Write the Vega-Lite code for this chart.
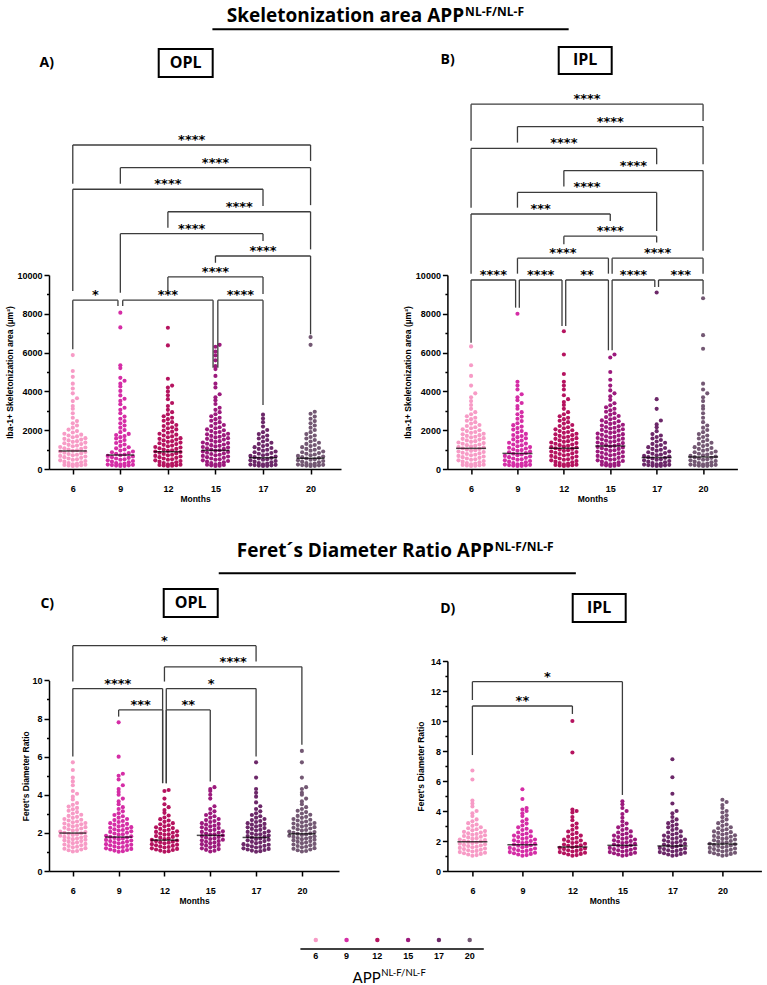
{
"$schema": "https://vega.github.io/schema/vega-lite/v6.json",
"background": "white",
"padding": 5,
"config": {
 "view": {"stroke": null},
 "axis": {"grid": false, "domainColor": "black", "domainWidth": 1.5, "tickColor": "black", "tickWidth": 1.5, "labelFont": "Liberation Sans", "labelFontSize": 9, "labelFontWeight": "bold", "labelColor": "black", "titleFont": "Liberation Sans", "titleFontSize": 8.5, "titleFontWeight": "bold", "titleColor": "black", "labelOverlap": false, "labelFlush": false}
},
"datasets": {
"A": [
{"m":6,"v":155},{"m":6,"v":165},{"m":6,"v":180},{"m":6,"v":195},{"m":6,"v":210},{"m":6,"v":225},{"m":6,"v":245},{"m":6,"v":275},{"m":6,"v":310},{"m":6,"v":345},{"m":6,"v":380},{"m":6,"v":415},{"m":6,"v":445},{"m":6,"v":475},{"m":6,"v":505},{"m":6,"v":540},{"m":6,"v":575},{"m":6,"v":610},{"m":6,"v":645},{"m":6,"v":675},{"m":6,"v":705},{"m":6,"v":735},{"m":6,"v":770},{"m":6,"v":805},{"m":6,"v":840},{"m":6,"v":875},{"m":6,"v":905},{"m":6,"v":935},{"m":6,"v":965},{"m":6,"v":1000},{"m":6,"v":1035},{"m":6,"v":1070},{"m":6,"v":1105},{"m":6,"v":1135},{"m":6,"v":1170},{"m":6,"v":1205},{"m":6,"v":1245},{"m":6,"v":1285},{"m":6,"v":1325},{"m":6,"v":1360},{"m":6,"v":1400},{"m":6,"v":1435},{"m":6,"v":1475},{"m":6,"v":1515},{"m":6,"v":1555},{"m":6,"v":1590},{"m":6,"v":1635},{"m":6,"v":1680},{"m":6,"v":1725},{"m":6,"v":1770},{"m":6,"v":1815},{"m":6,"v":1880},{"m":6,"v":1955},{"m":6,"v":2030},{"m":6,"v":2130},{"m":6,"v":2240},{"m":6,"v":2360},{"m":6,"v":2470},{"m":6,"v":2645},{"m":6,"v":2875},{"m":6,"v":3105},{"m":6,"v":3250},{"m":6,"v":3500},{"m":6,"v":3650},{"m":6,"v":3900},{"m":6,"v":4150},{"m":6,"v":4400},{"m":6,"v":4750},{"m":6,"v":5050},{"m":6,"v":5870},
{"m":9,"v":152},{"m":9,"v":162},{"m":9,"v":175},{"m":9,"v":188},{"m":9,"v":200},{"m":9,"v":213},{"m":9,"v":226},{"m":9,"v":245},{"m":9,"v":275},{"m":9,"v":310},{"m":9,"v":345},{"m":9,"v":380},{"m":9,"v":415},{"m":9,"v":445},{"m":9,"v":475},{"m":9,"v":505},{"m":9,"v":540},{"m":9,"v":575},{"m":9,"v":610},{"m":9,"v":645},{"m":9,"v":675},{"m":9,"v":710},{"m":9,"v":745},{"m":9,"v":785},{"m":9,"v":825},{"m":9,"v":865},{"m":9,"v":900},{"m":9,"v":950},{"m":9,"v":1005},{"m":9,"v":1065},{"m":9,"v":1120},{"m":9,"v":1190},{"m":9,"v":1265},{"m":9,"v":1340},{"m":9,"v":1420},{"m":9,"v":1495},{"m":9,"v":1570},{"m":9,"v":1640},{"m":9,"v":1695},{"m":9,"v":1755},{"m":9,"v":1810},{"m":9,"v":1900},{"m":9,"v":2010},{"m":9,"v":2130},{"m":9,"v":2240},{"m":9,"v":2360},{"m":9,"v":2470},{"m":9,"v":2590},{"m":9,"v":2700},{"m":9,"v":2875},{"m":9,"v":3050},{"m":9,"v":3160},{"m":9,"v":3335},{"m":9,"v":3510},{"m":9,"v":3620},{"m":9,"v":3795},{"m":9,"v":4025},{"m":9,"v":4250},{"m":9,"v":4400},{"m":9,"v":4550},{"m":9,"v":4700},{"m":9,"v":5200},{"m":9,"v":5350},{"m":9,"v":7300},{"m":9,"v":8060},
{"m":12,"v":155},{"m":12,"v":165},{"m":12,"v":180},{"m":12,"v":195},{"m":12,"v":210},{"m":12,"v":225},{"m":12,"v":245},{"m":12,"v":275},{"m":12,"v":310},{"m":12,"v":345},{"m":12,"v":380},{"m":12,"v":415},{"m":12,"v":445},{"m":12,"v":475},{"m":12,"v":505},{"m":12,"v":540},{"m":12,"v":575},{"m":12,"v":610},{"m":12,"v":645},{"m":12,"v":675},{"m":12,"v":705},{"m":12,"v":735},{"m":12,"v":770},{"m":12,"v":805},{"m":12,"v":840},{"m":12,"v":875},{"m":12,"v":905},{"m":12,"v":935},{"m":12,"v":965},{"m":12,"v":1000},{"m":12,"v":1035},{"m":12,"v":1070},{"m":12,"v":1105},{"m":12,"v":1135},{"m":12,"v":1170},{"m":12,"v":1205},{"m":12,"v":1245},{"m":12,"v":1285},{"m":12,"v":1325},{"m":12,"v":1360},{"m":12,"v":1400},{"m":12,"v":1435},{"m":12,"v":1475},{"m":12,"v":1515},{"m":12,"v":1555},{"m":12,"v":1590},{"m":12,"v":1635},{"m":12,"v":1680},{"m":12,"v":1725},{"m":12,"v":1770},{"m":12,"v":1815},{"m":12,"v":1870},{"m":12,"v":1925},{"m":12,"v":1985},{"m":12,"v":2040},{"m":12,"v":2100},{"m":12,"v":2155},{"m":12,"v":2215},{"m":12,"v":2270},{"m":12,"v":2340},{"m":12,"v":2415},{"m":12,"v":2490},{"m":12,"v":2570},{"m":12,"v":2645},{"m":12,"v":2720},{"m":12,"v":2820},{"m":12,"v":2930},{"m":12,"v":3050},{"m":12,"v":3250},{"m":12,"v":3400},{"m":12,"v":3600},{"m":12,"v":3800},{"m":12,"v":4000},{"m":12,"v":4200},{"m":12,"v":4300},{"m":12,"v":4650},{"m":12,"v":6370},{"m":12,"v":7280},
{"m":15,"v":158},{"m":15,"v":172},{"m":15,"v":190},{"m":15,"v":205},{"m":15,"v":222},{"m":15,"v":245},{"m":15,"v":275},{"m":15,"v":310},{"m":15,"v":345},{"m":15,"v":380},{"m":15,"v":415},{"m":15,"v":445},{"m":15,"v":475},{"m":15,"v":505},{"m":15,"v":540},{"m":15,"v":575},{"m":15,"v":610},{"m":15,"v":645},{"m":15,"v":675},{"m":15,"v":705},{"m":15,"v":735},{"m":15,"v":770},{"m":15,"v":805},{"m":15,"v":840},{"m":15,"v":875},{"m":15,"v":905},{"m":15,"v":935},{"m":15,"v":965},{"m":15,"v":1000},{"m":15,"v":1035},{"m":15,"v":1070},{"m":15,"v":1105},{"m":15,"v":1135},{"m":15,"v":1165},{"m":15,"v":1195},{"m":15,"v":1230},{"m":15,"v":1265},{"m":15,"v":1300},{"m":15,"v":1335},{"m":15,"v":1365},{"m":15,"v":1400},{"m":15,"v":1435},{"m":15,"v":1475},{"m":15,"v":1515},{"m":15,"v":1555},{"m":15,"v":1590},{"m":15,"v":1630},{"m":15,"v":1665},{"m":15,"v":1705},{"m":15,"v":1745},{"m":15,"v":1785},{"m":15,"v":1820},{"m":15,"v":1865},{"m":15,"v":1910},{"m":15,"v":1955},{"m":15,"v":2000},{"m":15,"v":2045},{"m":15,"v":2100},{"m":15,"v":2155},{"m":15,"v":2215},{"m":15,"v":2270},{"m":15,"v":2340},{"m":15,"v":2415},{"m":15,"v":2490},{"m":15,"v":2570},{"m":15,"v":2645},{"m":15,"v":2720},{"m":15,"v":2820},{"m":15,"v":2930},{"m":15,"v":3050},{"m":15,"v":3160},{"m":15,"v":3350},{"m":15,"v":3550},{"m":15,"v":3700},{"m":15,"v":3850},{"m":15,"v":4200},{"m":15,"v":4400},{"m":15,"v":4800},{"m":15,"v":5150},{"m":15,"v":5300},{"m":15,"v":5600},{"m":15,"v":5850},{"m":15,"v":6050},{"m":15,"v":6300},{"m":15,"v":6400},
{"m":17,"v":152},{"m":17,"v":162},{"m":17,"v":175},{"m":17,"v":188},{"m":17,"v":200},{"m":17,"v":213},{"m":17,"v":226},{"m":17,"v":245},{"m":17,"v":275},{"m":17,"v":310},{"m":17,"v":345},{"m":17,"v":380},{"m":17,"v":415},{"m":17,"v":445},{"m":17,"v":475},{"m":17,"v":505},{"m":17,"v":540},{"m":17,"v":575},{"m":17,"v":610},{"m":17,"v":645},{"m":17,"v":675},{"m":17,"v":710},{"m":17,"v":745},{"m":17,"v":785},{"m":17,"v":825},{"m":17,"v":865},{"m":17,"v":900},{"m":17,"v":945},{"m":17,"v":990},{"m":17,"v":1035},{"m":17,"v":1080},{"m":17,"v":1125},{"m":17,"v":1180},{"m":17,"v":1235},{"m":17,"v":1295},{"m":17,"v":1350},{"m":17,"v":1420},{"m":17,"v":1495},{"m":17,"v":1570},{"m":17,"v":1650},{"m":17,"v":1725},{"m":17,"v":1800},{"m":17,"v":1900},{"m":17,"v":2010},{"m":17,"v":2185},{"m":17,"v":2415},{"m":17,"v":2600},{"m":17,"v":2800},
{"m":20,"v":152},{"m":20,"v":162},{"m":20,"v":175},{"m":20,"v":188},{"m":20,"v":200},{"m":20,"v":213},{"m":20,"v":226},{"m":20,"v":245},{"m":20,"v":275},{"m":20,"v":310},{"m":20,"v":345},{"m":20,"v":380},{"m":20,"v":415},{"m":20,"v":445},{"m":20,"v":475},{"m":20,"v":505},{"m":20,"v":540},{"m":20,"v":575},{"m":20,"v":610},{"m":20,"v":645},{"m":20,"v":675},{"m":20,"v":710},{"m":20,"v":745},{"m":20,"v":785},{"m":20,"v":825},{"m":20,"v":865},{"m":20,"v":900},{"m":20,"v":945},{"m":20,"v":990},{"m":20,"v":1035},{"m":20,"v":1080},{"m":20,"v":1125},{"m":20,"v":1180},{"m":20,"v":1235},{"m":20,"v":1295},{"m":20,"v":1350},{"m":20,"v":1420},{"m":20,"v":1495},{"m":20,"v":1570},{"m":20,"v":1650},{"m":20,"v":1725},{"m":20,"v":1800},{"m":20,"v":1900},{"m":20,"v":2010},{"m":20,"v":2130},{"m":20,"v":2240},{"m":20,"v":2360},{"m":20,"v":2470},{"m":20,"v":2590},{"m":20,"v":2700},{"m":20,"v":2850},{"m":20,"v":2950},{"m":20,"v":6400},{"m":20,"v":6800}
],
"B": [
{"m":6,"v":155},{"m":6,"v":165},{"m":6,"v":180},{"m":6,"v":195},{"m":6,"v":210},{"m":6,"v":225},{"m":6,"v":245},{"m":6,"v":275},{"m":6,"v":310},{"m":6,"v":345},{"m":6,"v":380},{"m":6,"v":415},{"m":6,"v":445},{"m":6,"v":475},{"m":6,"v":505},{"m":6,"v":540},{"m":6,"v":575},{"m":6,"v":610},{"m":6,"v":645},{"m":6,"v":675},{"m":6,"v":705},{"m":6,"v":735},{"m":6,"v":770},{"m":6,"v":805},{"m":6,"v":840},{"m":6,"v":875},{"m":6,"v":905},{"m":6,"v":935},{"m":6,"v":965},{"m":6,"v":1000},{"m":6,"v":1035},{"m":6,"v":1070},{"m":6,"v":1105},{"m":6,"v":1135},{"m":6,"v":1165},{"m":6,"v":1195},{"m":6,"v":1230},{"m":6,"v":1265},{"m":6,"v":1300},{"m":6,"v":1335},{"m":6,"v":1365},{"m":6,"v":1400},{"m":6,"v":1435},{"m":6,"v":1475},{"m":6,"v":1515},{"m":6,"v":1555},{"m":6,"v":1590},{"m":6,"v":1630},{"m":6,"v":1665},{"m":6,"v":1705},{"m":6,"v":1745},{"m":6,"v":1785},{"m":6,"v":1820},{"m":6,"v":1865},{"m":6,"v":1910},{"m":6,"v":1955},{"m":6,"v":2000},{"m":6,"v":2045},{"m":6,"v":2100},{"m":6,"v":2155},{"m":6,"v":2215},{"m":6,"v":2270},{"m":6,"v":2340},{"m":6,"v":2415},{"m":6,"v":2490},{"m":6,"v":2570},{"m":6,"v":2645},{"m":6,"v":2720},{"m":6,"v":2820},{"m":6,"v":2930},{"m":6,"v":3100},{"m":6,"v":3300},{"m":6,"v":3500},{"m":6,"v":3700},{"m":6,"v":3900},{"m":6,"v":4300},{"m":6,"v":4800},{"m":6,"v":5350},{"m":6,"v":6320},
{"m":9,"v":152},{"m":9,"v":162},{"m":9,"v":175},{"m":9,"v":188},{"m":9,"v":200},{"m":9,"v":213},{"m":9,"v":226},{"m":9,"v":245},{"m":9,"v":275},{"m":9,"v":310},{"m":9,"v":345},{"m":9,"v":380},{"m":9,"v":415},{"m":9,"v":445},{"m":9,"v":475},{"m":9,"v":505},{"m":9,"v":540},{"m":9,"v":575},{"m":9,"v":610},{"m":9,"v":645},{"m":9,"v":675},{"m":9,"v":710},{"m":9,"v":745},{"m":9,"v":785},{"m":9,"v":825},{"m":9,"v":865},{"m":9,"v":900},{"m":9,"v":940},{"m":9,"v":975},{"m":9,"v":1015},{"m":9,"v":1055},{"m":9,"v":1095},{"m":9,"v":1130},{"m":9,"v":1175},{"m":9,"v":1220},{"m":9,"v":1265},{"m":9,"v":1310},{"m":9,"v":1355},{"m":9,"v":1410},{"m":9,"v":1465},{"m":9,"v":1525},{"m":9,"v":1580},{"m":9,"v":1640},{"m":9,"v":1695},{"m":9,"v":1755},{"m":9,"v":1810},{"m":9,"v":1880},{"m":9,"v":1955},{"m":9,"v":2030},{"m":9,"v":2110},{"m":9,"v":2185},{"m":9,"v":2260},{"m":9,"v":2360},{"m":9,"v":2470},{"m":9,"v":2590},{"m":9,"v":2700},{"m":9,"v":2820},{"m":9,"v":2930},{"m":9,"v":3105},{"m":9,"v":3250},{"m":9,"v":3400},{"m":9,"v":3550},{"m":9,"v":3700},{"m":9,"v":3850},{"m":9,"v":4100},{"m":9,"v":4300},{"m":9,"v":4500},{"m":9,"v":8000},
{"m":12,"v":155},{"m":12,"v":165},{"m":12,"v":180},{"m":12,"v":195},{"m":12,"v":210},{"m":12,"v":225},{"m":12,"v":245},{"m":12,"v":275},{"m":12,"v":310},{"m":12,"v":345},{"m":12,"v":380},{"m":12,"v":415},{"m":12,"v":445},{"m":12,"v":475},{"m":12,"v":505},{"m":12,"v":540},{"m":12,"v":575},{"m":12,"v":610},{"m":12,"v":645},{"m":12,"v":675},{"m":12,"v":705},{"m":12,"v":735},{"m":12,"v":770},{"m":12,"v":805},{"m":12,"v":840},{"m":12,"v":875},{"m":12,"v":905},{"m":12,"v":935},{"m":12,"v":965},{"m":12,"v":1000},{"m":12,"v":1035},{"m":12,"v":1070},{"m":12,"v":1105},{"m":12,"v":1135},{"m":12,"v":1165},{"m":12,"v":1195},{"m":12,"v":1230},{"m":12,"v":1265},{"m":12,"v":1300},{"m":12,"v":1335},{"m":12,"v":1365},{"m":12,"v":1400},{"m":12,"v":1435},{"m":12,"v":1475},{"m":12,"v":1515},{"m":12,"v":1555},{"m":12,"v":1590},{"m":12,"v":1630},{"m":12,"v":1665},{"m":12,"v":1705},{"m":12,"v":1745},{"m":12,"v":1785},{"m":12,"v":1820},{"m":12,"v":1865},{"m":12,"v":1910},{"m":12,"v":1955},{"m":12,"v":2000},{"m":12,"v":2045},{"m":12,"v":2100},{"m":12,"v":2155},{"m":12,"v":2215},{"m":12,"v":2270},{"m":12,"v":2340},{"m":12,"v":2415},{"m":12,"v":2490},{"m":12,"v":2570},{"m":12,"v":2645},{"m":12,"v":2720},{"m":12,"v":2820},{"m":12,"v":2930},{"m":12,"v":3100},{"m":12,"v":3300},{"m":12,"v":3450},{"m":12,"v":3600},{"m":12,"v":3800},{"m":12,"v":4100},{"m":12,"v":4300},{"m":12,"v":4500},{"m":12,"v":4900},{"m":12,"v":5900},{"m":12,"v":7100},
{"m":15,"v":158},{"m":15,"v":172},{"m":15,"v":190},{"m":15,"v":205},{"m":15,"v":222},{"m":15,"v":245},{"m":15,"v":275},{"m":15,"v":310},{"m":15,"v":345},{"m":15,"v":380},{"m":15,"v":415},{"m":15,"v":445},{"m":15,"v":475},{"m":15,"v":505},{"m":15,"v":540},{"m":15,"v":575},{"m":15,"v":610},{"m":15,"v":645},{"m":15,"v":675},{"m":15,"v":705},{"m":15,"v":735},{"m":15,"v":770},{"m":15,"v":805},{"m":15,"v":840},{"m":15,"v":875},{"m":15,"v":905},{"m":15,"v":935},{"m":15,"v":965},{"m":15,"v":1000},{"m":15,"v":1035},{"m":15,"v":1070},{"m":15,"v":1105},{"m":15,"v":1135},{"m":15,"v":1165},{"m":15,"v":1195},{"m":15,"v":1230},{"m":15,"v":1265},{"m":15,"v":1300},{"m":15,"v":1335},{"m":15,"v":1365},{"m":15,"v":1395},{"m":15,"v":1425},{"m":15,"v":1460},{"m":15,"v":1495},{"m":15,"v":1530},{"m":15,"v":1565},{"m":15,"v":1595},{"m":15,"v":1625},{"m":15,"v":1655},{"m":15,"v":1690},{"m":15,"v":1725},{"m":15,"v":1760},{"m":15,"v":1795},{"m":15,"v":1825},{"m":15,"v":1860},{"m":15,"v":1895},{"m":15,"v":1935},{"m":15,"v":1975},{"m":15,"v":2015},{"m":15,"v":2050},{"m":15,"v":2090},{"m":15,"v":2125},{"m":15,"v":2165},{"m":15,"v":2205},{"m":15,"v":2245},{"m":15,"v":2280},{"m":15,"v":2325},{"m":15,"v":2370},{"m":15,"v":2415},{"m":15,"v":2460},{"m":15,"v":2505},{"m":15,"v":2560},{"m":15,"v":2615},{"m":15,"v":2675},{"m":15,"v":2730},{"m":15,"v":2800},{"m":15,"v":2875},{"m":15,"v":2950},{"m":15,"v":3030},{"m":15,"v":3105},{"m":15,"v":3180},{"m":15,"v":3280},{"m":15,"v":3390},{"m":15,"v":3565},{"m":15,"v":3750},{"m":15,"v":3900},{"m":15,"v":4050},{"m":15,"v":4300},{"m":15,"v":4600},{"m":15,"v":5000},{"m":15,"v":5750},{"m":15,"v":5900},
{"m":17,"v":152},{"m":17,"v":162},{"m":17,"v":175},{"m":17,"v":188},{"m":17,"v":200},{"m":17,"v":213},{"m":17,"v":226},{"m":17,"v":245},{"m":17,"v":275},{"m":17,"v":310},{"m":17,"v":345},{"m":17,"v":380},{"m":17,"v":415},{"m":17,"v":445},{"m":17,"v":475},{"m":17,"v":505},{"m":17,"v":540},{"m":17,"v":575},{"m":17,"v":610},{"m":17,"v":645},{"m":17,"v":675},{"m":17,"v":710},{"m":17,"v":745},{"m":17,"v":785},{"m":17,"v":825},{"m":17,"v":865},{"m":17,"v":900},{"m":17,"v":945},{"m":17,"v":990},{"m":17,"v":1035},{"m":17,"v":1080},{"m":17,"v":1125},{"m":17,"v":1180},{"m":17,"v":1235},{"m":17,"v":1295},{"m":17,"v":1350},{"m":17,"v":1420},{"m":17,"v":1495},{"m":17,"v":1570},{"m":17,"v":1650},{"m":17,"v":1725},{"m":17,"v":1800},{"m":17,"v":1950},{"m":17,"v":2150},{"m":17,"v":2300},{"m":17,"v":2500},{"m":17,"v":3100},{"m":17,"v":3600},{"m":17,"v":9100},
{"m":20,"v":152},{"m":20,"v":162},{"m":20,"v":175},{"m":20,"v":188},{"m":20,"v":200},{"m":20,"v":213},{"m":20,"v":226},{"m":20,"v":245},{"m":20,"v":275},{"m":20,"v":310},{"m":20,"v":345},{"m":20,"v":380},{"m":20,"v":415},{"m":20,"v":445},{"m":20,"v":475},{"m":20,"v":505},{"m":20,"v":540},{"m":20,"v":575},{"m":20,"v":610},{"m":20,"v":645},{"m":20,"v":675},{"m":20,"v":710},{"m":20,"v":745},{"m":20,"v":785},{"m":20,"v":825},{"m":20,"v":865},{"m":20,"v":900},{"m":20,"v":945},{"m":20,"v":990},{"m":20,"v":1035},{"m":20,"v":1080},{"m":20,"v":1125},{"m":20,"v":1180},{"m":20,"v":1235},{"m":20,"v":1295},{"m":20,"v":1350},{"m":20,"v":1420},{"m":20,"v":1495},{"m":20,"v":1570},{"m":20,"v":1650},{"m":20,"v":1725},{"m":20,"v":1800},{"m":20,"v":1900},{"m":20,"v":2010},{"m":20,"v":2130},{"m":20,"v":2240},{"m":20,"v":2415},{"m":20,"v":2645},{"m":20,"v":2875},{"m":20,"v":3105},{"m":20,"v":3250},{"m":20,"v":3500},{"m":20,"v":3700},{"m":20,"v":3900},{"m":20,"v":4100},{"m":20,"v":4400},{"m":20,"v":6200},{"m":20,"v":6900},{"m":20,"v":8800}
],
"C": [
{"m":6,"v":1.02},{"m":6,"v":1.05},{"m":6,"v":1.09},{"m":6,"v":1.13},{"m":6,"v":1.17},{"m":6,"v":1.2},{"m":6,"v":1.24},{"m":6,"v":1.27},{"m":6,"v":1.31},{"m":6,"v":1.35},{"m":6,"v":1.39},{"m":6,"v":1.42},{"m":6,"v":1.46},{"m":6,"v":1.49},{"m":6,"v":1.53},{"m":6,"v":1.57},{"m":6,"v":1.61},{"m":6,"v":1.64},{"m":6,"v":1.67},{"m":6,"v":1.7},{"m":6,"v":1.73},{"m":6,"v":1.76},{"m":6,"v":1.79},{"m":6,"v":1.82},{"m":6,"v":1.85},{"m":6,"v":1.89},{"m":6,"v":1.92},{"m":6,"v":1.95},{"m":6,"v":1.98},{"m":6,"v":2.01},{"m":6,"v":2.04},{"m":6,"v":2.07},{"m":6,"v":2.12},{"m":6,"v":2.15},{"m":6,"v":2.19},{"m":6,"v":2.23},{"m":6,"v":2.27},{"m":6,"v":2.3},{"m":6,"v":2.34},{"m":6,"v":2.37},{"m":6,"v":2.41},{"m":6,"v":2.45},{"m":6,"v":2.49},{"m":6,"v":2.52},{"m":6,"v":2.56},{"m":6,"v":2.6},{"m":6,"v":2.65},{"m":6,"v":2.69},{"m":6,"v":2.73},{"m":6,"v":2.79},{"m":6,"v":2.84},{"m":6,"v":2.89},{"m":6,"v":2.95},{"m":6,"v":3.02},{"m":6,"v":3.09},{"m":6,"v":3.16},{"m":6,"v":3.24},{"m":6,"v":3.31},{"m":6,"v":3.38},{"m":6,"v":3.47},{"m":6,"v":3.57},{"m":6,"v":3.75},{"m":6,"v":3.9},{"m":6,"v":4.05},{"m":6,"v":4.2},{"m":6,"v":4.5},{"m":6,"v":4.7},{"m":6,"v":4.9},{"m":6,"v":5.3},{"m":6,"v":5.7},
{"m":9,"v":1.01},{"m":9,"v":1.04},{"m":9,"v":1.07},{"m":9,"v":1.1},{"m":9,"v":1.13},{"m":9,"v":1.16},{"m":9,"v":1.19},{"m":9,"v":1.23},{"m":9,"v":1.26},{"m":9,"v":1.29},{"m":9,"v":1.32},{"m":9,"v":1.35},{"m":9,"v":1.38},{"m":9,"v":1.41},{"m":9,"v":1.45},{"m":9,"v":1.48},{"m":9,"v":1.51},{"m":9,"v":1.54},{"m":9,"v":1.57},{"m":9,"v":1.6},{"m":9,"v":1.63},{"m":9,"v":1.67},{"m":9,"v":1.7},{"m":9,"v":1.73},{"m":9,"v":1.76},{"m":9,"v":1.79},{"m":9,"v":1.82},{"m":9,"v":1.85},{"m":9,"v":1.9},{"m":9,"v":1.93},{"m":9,"v":1.97},{"m":9,"v":2.01},{"m":9,"v":2.05},{"m":9,"v":2.08},{"m":9,"v":2.12},{"m":9,"v":2.15},{"m":9,"v":2.19},{"m":9,"v":2.23},{"m":9,"v":2.27},{"m":9,"v":2.3},{"m":9,"v":2.34},{"m":9,"v":2.38},{"m":9,"v":2.43},{"m":9,"v":2.47},{"m":9,"v":2.51},{"m":9,"v":2.57},{"m":9,"v":2.62},{"m":9,"v":2.67},{"m":9,"v":2.73},{"m":9,"v":2.8},{"m":9,"v":2.87},{"m":9,"v":2.94},{"m":9,"v":3.03},{"m":9,"v":3.13},{"m":9,"v":3.25},{"m":9,"v":3.35},{"m":9,"v":3.5},{"m":9,"v":3.65},{"m":9,"v":3.8},{"m":9,"v":4.0},{"m":9,"v":4.15},{"m":9,"v":4.3},{"m":9,"v":4.5},{"m":9,"v":4.8},{"m":9,"v":5.0},{"m":9,"v":5.1},{"m":9,"v":6.0},{"m":9,"v":7.8},
{"m":12,"v":1.01},{"m":12,"v":1.04},{"m":12,"v":1.07},{"m":12,"v":1.1},{"m":12,"v":1.13},{"m":12,"v":1.16},{"m":12,"v":1.19},{"m":12,"v":1.23},{"m":12,"v":1.26},{"m":12,"v":1.29},{"m":12,"v":1.32},{"m":12,"v":1.35},{"m":12,"v":1.38},{"m":12,"v":1.41},{"m":12,"v":1.45},{"m":12,"v":1.48},{"m":12,"v":1.51},{"m":12,"v":1.54},{"m":12,"v":1.57},{"m":12,"v":1.6},{"m":12,"v":1.63},{"m":12,"v":1.68},{"m":12,"v":1.71},{"m":12,"v":1.75},{"m":12,"v":1.79},{"m":12,"v":1.83},{"m":12,"v":1.86},{"m":12,"v":1.9},{"m":12,"v":1.93},{"m":12,"v":1.97},{"m":12,"v":2.01},{"m":12,"v":2.05},{"m":12,"v":2.08},{"m":12,"v":2.12},{"m":12,"v":2.16},{"m":12,"v":2.21},{"m":12,"v":2.25},{"m":12,"v":2.29},{"m":12,"v":2.35},{"m":12,"v":2.4},{"m":12,"v":2.45},{"m":12,"v":2.51},{"m":12,"v":2.58},{"m":12,"v":2.65},{"m":12,"v":2.72},{"m":12,"v":2.81},{"m":12,"v":2.91},{"m":12,"v":3.05},{"m":12,"v":3.2},{"m":12,"v":3.35},{"m":12,"v":3.5},{"m":12,"v":3.8},{"m":12,"v":4.2},{"m":12,"v":4.25},
{"m":15,"v":1.02},{"m":15,"v":1.06},{"m":15,"v":1.11},{"m":15,"v":1.15},{"m":15,"v":1.19},{"m":15,"v":1.24},{"m":15,"v":1.28},{"m":15,"v":1.33},{"m":15,"v":1.37},{"m":15,"v":1.41},{"m":15,"v":1.46},{"m":15,"v":1.49},{"m":15,"v":1.53},{"m":15,"v":1.57},{"m":15,"v":1.61},{"m":15,"v":1.64},{"m":15,"v":1.68},{"m":15,"v":1.71},{"m":15,"v":1.75},{"m":15,"v":1.79},{"m":15,"v":1.83},{"m":15,"v":1.86},{"m":15,"v":1.9},{"m":15,"v":1.93},{"m":15,"v":1.97},{"m":15,"v":2.01},{"m":15,"v":2.05},{"m":15,"v":2.08},{"m":15,"v":2.12},{"m":15,"v":2.16},{"m":15,"v":2.21},{"m":15,"v":2.25},{"m":15,"v":2.29},{"m":15,"v":2.34},{"m":15,"v":2.38},{"m":15,"v":2.43},{"m":15,"v":2.47},{"m":15,"v":2.51},{"m":15,"v":2.57},{"m":15,"v":2.62},{"m":15,"v":2.67},{"m":15,"v":2.73},{"m":15,"v":2.8},{"m":15,"v":2.87},{"m":15,"v":2.94},{"m":15,"v":3.03},{"m":15,"v":3.13},{"m":15,"v":3.25},{"m":15,"v":3.4},{"m":15,"v":3.8},{"m":15,"v":4.0},{"m":15,"v":4.2},{"m":15,"v":4.3},{"m":15,"v":4.4},
{"m":17,"v":1.01},{"m":17,"v":1.04},{"m":17,"v":1.07},{"m":17,"v":1.1},{"m":17,"v":1.13},{"m":17,"v":1.16},{"m":17,"v":1.19},{"m":17,"v":1.23},{"m":17,"v":1.26},{"m":17,"v":1.29},{"m":17,"v":1.32},{"m":17,"v":1.35},{"m":17,"v":1.38},{"m":17,"v":1.41},{"m":17,"v":1.46},{"m":17,"v":1.49},{"m":17,"v":1.53},{"m":17,"v":1.57},{"m":17,"v":1.61},{"m":17,"v":1.64},{"m":17,"v":1.68},{"m":17,"v":1.71},{"m":17,"v":1.75},{"m":17,"v":1.79},{"m":17,"v":1.83},{"m":17,"v":1.86},{"m":17,"v":1.9},{"m":17,"v":1.93},{"m":17,"v":1.97},{"m":17,"v":2.01},{"m":17,"v":2.05},{"m":17,"v":2.08},{"m":17,"v":2.12},{"m":17,"v":2.16},{"m":17,"v":2.21},{"m":17,"v":2.25},{"m":17,"v":2.29},{"m":17,"v":2.34},{"m":17,"v":2.38},{"m":17,"v":2.43},{"m":17,"v":2.47},{"m":17,"v":2.51},{"m":17,"v":2.57},{"m":17,"v":2.62},{"m":17,"v":2.67},{"m":17,"v":2.73},{"m":17,"v":2.8},{"m":17,"v":2.87},{"m":17,"v":2.94},{"m":17,"v":3.03},{"m":17,"v":3.13},{"m":17,"v":3.25},{"m":17,"v":3.4},{"m":17,"v":3.6},{"m":17,"v":3.9},{"m":17,"v":4.1},{"m":17,"v":4.3},{"m":17,"v":4.9},{"m":17,"v":5.7},
{"m":20,"v":1.02},{"m":20,"v":1.05},{"m":20,"v":1.09},{"m":20,"v":1.13},{"m":20,"v":1.17},{"m":20,"v":1.2},{"m":20,"v":1.24},{"m":20,"v":1.27},{"m":20,"v":1.31},{"m":20,"v":1.35},{"m":20,"v":1.39},{"m":20,"v":1.42},{"m":20,"v":1.46},{"m":20,"v":1.49},{"m":20,"v":1.53},{"m":20,"v":1.57},{"m":20,"v":1.61},{"m":20,"v":1.64},{"m":20,"v":1.67},{"m":20,"v":1.7},{"m":20,"v":1.73},{"m":20,"v":1.76},{"m":20,"v":1.79},{"m":20,"v":1.82},{"m":20,"v":1.85},{"m":20,"v":1.89},{"m":20,"v":1.92},{"m":20,"v":1.95},{"m":20,"v":1.98},{"m":20,"v":2.01},{"m":20,"v":2.04},{"m":20,"v":2.07},{"m":20,"v":2.12},{"m":20,"v":2.15},{"m":20,"v":2.19},{"m":20,"v":2.23},{"m":20,"v":2.27},{"m":20,"v":2.3},{"m":20,"v":2.34},{"m":20,"v":2.37},{"m":20,"v":2.41},{"m":20,"v":2.45},{"m":20,"v":2.49},{"m":20,"v":2.52},{"m":20,"v":2.56},{"m":20,"v":2.6},{"m":20,"v":2.65},{"m":20,"v":2.69},{"m":20,"v":2.73},{"m":20,"v":2.79},{"m":20,"v":2.84},{"m":20,"v":2.89},{"m":20,"v":2.95},{"m":20,"v":3.02},{"m":20,"v":3.09},{"m":20,"v":3.16},{"m":20,"v":3.25},{"m":20,"v":3.35},{"m":20,"v":3.5},{"m":20,"v":3.65},{"m":20,"v":3.8},{"m":20,"v":4.0},{"m":20,"v":4.1},{"m":20,"v":4.3},{"m":20,"v":4.4},{"m":20,"v":4.9},{"m":20,"v":5.7},{"m":20,"v":6.3}
],
"D": [
{"m":6,"v":1.02},{"m":6,"v":1.06},{"m":6,"v":1.1},{"m":6,"v":1.14},{"m":6,"v":1.18},{"m":6,"v":1.22},{"m":6,"v":1.26},{"m":6,"v":1.3},{"m":6,"v":1.34},{"m":6,"v":1.38},{"m":6,"v":1.42},{"m":6,"v":1.46},{"m":6,"v":1.5},{"m":6,"v":1.54},{"m":6,"v":1.58},{"m":6,"v":1.62},{"m":6,"v":1.66},{"m":6,"v":1.7},{"m":6,"v":1.74},{"m":6,"v":1.78},{"m":6,"v":1.82},{"m":6,"v":1.86},{"m":6,"v":1.9},{"m":6,"v":1.94},{"m":6,"v":1.98},{"m":6,"v":2.02},{"m":6,"v":2.06},{"m":6,"v":2.1},{"m":6,"v":2.14},{"m":6,"v":2.19},{"m":6,"v":2.24},{"m":6,"v":2.28},{"m":6,"v":2.33},{"m":6,"v":2.38},{"m":6,"v":2.42},{"m":6,"v":2.47},{"m":6,"v":2.52},{"m":6,"v":2.56},{"m":6,"v":2.61},{"m":6,"v":2.66},{"m":6,"v":2.71},{"m":6,"v":2.78},{"m":6,"v":2.85},{"m":6,"v":2.92},{"m":6,"v":3.01},{"m":6,"v":3.1},{"m":6,"v":3.19},{"m":6,"v":3.31},{"m":6,"v":3.44},{"m":6,"v":3.66},{"m":6,"v":3.85},{"m":6,"v":4.0},{"m":6,"v":4.3},{"m":6,"v":4.5},{"m":6,"v":4.7},{"m":6,"v":6.1},{"m":6,"v":6.7},
{"m":9,"v":1.02},{"m":9,"v":1.06},{"m":9,"v":1.1},{"m":9,"v":1.14},{"m":9,"v":1.18},{"m":9,"v":1.22},{"m":9,"v":1.26},{"m":9,"v":1.3},{"m":9,"v":1.34},{"m":9,"v":1.38},{"m":9,"v":1.42},{"m":9,"v":1.46},{"m":9,"v":1.5},{"m":9,"v":1.54},{"m":9,"v":1.58},{"m":9,"v":1.63},{"m":9,"v":1.68},{"m":9,"v":1.72},{"m":9,"v":1.77},{"m":9,"v":1.82},{"m":9,"v":1.86},{"m":9,"v":1.91},{"m":9,"v":1.96},{"m":9,"v":2.0},{"m":9,"v":2.05},{"m":9,"v":2.1},{"m":9,"v":2.15},{"m":9,"v":2.2},{"m":9,"v":2.26},{"m":9,"v":2.31},{"m":9,"v":2.36},{"m":9,"v":2.43},{"m":9,"v":2.5},{"m":9,"v":2.57},{"m":9,"v":2.64},{"m":9,"v":2.73},{"m":9,"v":2.82},{"m":9,"v":2.91},{"m":9,"v":3.03},{"m":9,"v":3.16},{"m":9,"v":3.31},{"m":9,"v":3.44},{"m":9,"v":3.66},{"m":9,"v":3.85},{"m":9,"v":4.0},{"m":9,"v":4.1},{"m":9,"v":4.2},{"m":9,"v":4.8},{"m":9,"v":5.45},
{"m":12,"v":1.02},{"m":12,"v":1.06},{"m":12,"v":1.1},{"m":12,"v":1.14},{"m":12,"v":1.18},{"m":12,"v":1.22},{"m":12,"v":1.26},{"m":12,"v":1.3},{"m":12,"v":1.34},{"m":12,"v":1.38},{"m":12,"v":1.42},{"m":12,"v":1.46},{"m":12,"v":1.5},{"m":12,"v":1.54},{"m":12,"v":1.58},{"m":12,"v":1.63},{"m":12,"v":1.68},{"m":12,"v":1.72},{"m":12,"v":1.77},{"m":12,"v":1.82},{"m":12,"v":1.87},{"m":12,"v":1.92},{"m":12,"v":1.98},{"m":12,"v":2.03},{"m":12,"v":2.09},{"m":12,"v":2.15},{"m":12,"v":2.22},{"m":12,"v":2.29},{"m":12,"v":2.36},{"m":12,"v":2.45},{"m":12,"v":2.54},{"m":12,"v":2.63},{"m":12,"v":2.75},{"m":12,"v":2.88},{"m":12,"v":3.03},{"m":12,"v":3.16},{"m":12,"v":3.38},{"m":12,"v":3.6},{"m":12,"v":3.9},{"m":12,"v":4.0},{"m":12,"v":4.1},{"m":12,"v":7.9},{"m":12,"v":10.0},
{"m":15,"v":1.02},{"m":15,"v":1.06},{"m":15,"v":1.1},{"m":15,"v":1.14},{"m":15,"v":1.18},{"m":15,"v":1.22},{"m":15,"v":1.26},{"m":15,"v":1.3},{"m":15,"v":1.34},{"m":15,"v":1.38},{"m":15,"v":1.42},{"m":15,"v":1.46},{"m":15,"v":1.5},{"m":15,"v":1.54},{"m":15,"v":1.58},{"m":15,"v":1.63},{"m":15,"v":1.68},{"m":15,"v":1.72},{"m":15,"v":1.77},{"m":15,"v":1.82},{"m":15,"v":1.86},{"m":15,"v":1.91},{"m":15,"v":1.96},{"m":15,"v":2.0},{"m":15,"v":2.05},{"m":15,"v":2.1},{"m":15,"v":2.15},{"m":15,"v":2.2},{"m":15,"v":2.26},{"m":15,"v":2.31},{"m":15,"v":2.36},{"m":15,"v":2.43},{"m":15,"v":2.5},{"m":15,"v":2.57},{"m":15,"v":2.64},{"m":15,"v":2.73},{"m":15,"v":2.82},{"m":15,"v":2.91},{"m":15,"v":3.03},{"m":15,"v":3.16},{"m":15,"v":3.3},{"m":15,"v":3.55},{"m":15,"v":3.8},{"m":15,"v":4.0},{"m":15,"v":4.2},{"m":15,"v":4.45},{"m":15,"v":4.65},
{"m":17,"v":1.02},{"m":17,"v":1.06},{"m":17,"v":1.1},{"m":17,"v":1.14},{"m":17,"v":1.18},{"m":17,"v":1.22},{"m":17,"v":1.26},{"m":17,"v":1.3},{"m":17,"v":1.34},{"m":17,"v":1.38},{"m":17,"v":1.42},{"m":17,"v":1.46},{"m":17,"v":1.5},{"m":17,"v":1.54},{"m":17,"v":1.58},{"m":17,"v":1.63},{"m":17,"v":1.68},{"m":17,"v":1.72},{"m":17,"v":1.77},{"m":17,"v":1.82},{"m":17,"v":1.86},{"m":17,"v":1.91},{"m":17,"v":1.96},{"m":17,"v":2.0},{"m":17,"v":2.05},{"m":17,"v":2.1},{"m":17,"v":2.15},{"m":17,"v":2.2},{"m":17,"v":2.26},{"m":17,"v":2.31},{"m":17,"v":2.36},{"m":17,"v":2.43},{"m":17,"v":2.5},{"m":17,"v":2.57},{"m":17,"v":2.64},{"m":17,"v":2.73},{"m":17,"v":2.82},{"m":17,"v":2.91},{"m":17,"v":3.01},{"m":17,"v":3.1},{"m":17,"v":3.19},{"m":17,"v":3.31},{"m":17,"v":3.44},{"m":17,"v":3.6},{"m":17,"v":3.85},{"m":17,"v":4.0},{"m":17,"v":4.5},{"m":17,"v":5.15},{"m":17,"v":6.25},{"m":17,"v":7.45},
{"m":20,"v":1.02},{"m":20,"v":1.06},{"m":20,"v":1.1},{"m":20,"v":1.14},{"m":20,"v":1.18},{"m":20,"v":1.22},{"m":20,"v":1.26},{"m":20,"v":1.3},{"m":20,"v":1.34},{"m":20,"v":1.38},{"m":20,"v":1.42},{"m":20,"v":1.46},{"m":20,"v":1.5},{"m":20,"v":1.54},{"m":20,"v":1.58},{"m":20,"v":1.62},{"m":20,"v":1.66},{"m":20,"v":1.7},{"m":20,"v":1.74},{"m":20,"v":1.78},{"m":20,"v":1.82},{"m":20,"v":1.86},{"m":20,"v":1.91},{"m":20,"v":1.96},{"m":20,"v":2.0},{"m":20,"v":2.05},{"m":20,"v":2.1},{"m":20,"v":2.14},{"m":20,"v":2.19},{"m":20,"v":2.24},{"m":20,"v":2.28},{"m":20,"v":2.33},{"m":20,"v":2.38},{"m":20,"v":2.43},{"m":20,"v":2.48},{"m":20,"v":2.54},{"m":20,"v":2.59},{"m":20,"v":2.64},{"m":20,"v":2.71},{"m":20,"v":2.78},{"m":20,"v":2.85},{"m":20,"v":2.92},{"m":20,"v":3.01},{"m":20,"v":3.1},{"m":20,"v":3.19},{"m":20,"v":3.31},{"m":20,"v":3.44},{"m":20,"v":3.59},{"m":20,"v":3.72},{"m":20,"v":3.9},{"m":20,"v":4.0},{"m":20,"v":4.2},{"m":20,"v":4.4},{"m":20,"v":4.6},{"m":20,"v":4.75}
],
"Amed": [{"m":6,"v":930},{"m":9,"v":720},{"m":12,"v":890},{"m":15,"v":960},{"m":17,"v":580},{"m":20,"v":550}],
"Bmed": [{"m":6,"v":1065},{"m":9,"v":805},{"m":12,"v":1065},{"m":15,"v":1185},{"m":17,"v":590},{"m":20,"v":620}],
"Cmed": [{"m":6,"v":1.99},{"m":9,"v":1.78},{"m":12,"v":1.62},{"m":15,"v":1.87},{"m":17,"v":1.76},{"m":20,"v":1.95}],
"Dmed": [{"m":6,"v":1.95},{"m":9,"v":1.75},{"m":12,"v":1.6},{"m":15,"v":1.71},{"m":17,"v":1.67},{"m":20,"v":1.8}],
"Abr": [
{"a":0,"b":5,"y":16700,"ya":14700,"yb":15880,"s":"****"},
{"a":1,"b":5,"y":15530,"ya":14700,"yb":13600,"s":"****"},
{"a":0,"b":4,"y":14420,"ya":9180,"yb":13560,"s":"****"},
{"a":2,"b":5,"y":13260,"ya":12440,"yb":11320,"s":"****"},
{"a":1,"b":4,"y":12130,"ya":9090,"yb":11750,"s":"****"},
{"a":3,"b":5,"y":10980,"ya":10630,"yb":6940,"s":"****"},
{"a":2,"b":4,"y":9900,"ya":9180,"yb":9020,"s":"****"},
{"a":0,"b":0.95,"y":8700,"ya":6170,"yb":8400,"s":"*"},
{"a":1.05,"b":2.95,"y":8700,"ya":8400,"yb":5220,"s":"***"},
{"a":3.05,"b":4,"y":8700,"ya":5220,"yb":3300,"s":"****"}
],
"Bbr": [
{"a":0,"b":5,"y":18805,"ya":16915,"yb":17940,"s":"****"},
{"a":1,"b":5,"y":17650,"ya":16825,"yb":15710,"s":"****"},
{"a":0,"b":4,"y":16527,"ya":13472,"yb":15710,"s":"****"},
{"a":2,"b":5,"y":15383,"ya":14557,"yb":11244,"s":"****"},
{"a":1,"b":4,"y":14258,"ya":13472,"yb":12268,"s":"****"},
{"a":0,"b":3,"y":13144,"ya":10069,"yb":12786,"s":"***"},
{"a":2,"b":4,"y":12000,"ya":11582,"yb":11671,"s":"****"},
{"a":1,"b":2.96,"y":10865,"ya":10069,"yb":10069,"s":"****"},
{"a":3.04,"b":5,"y":10865,"ya":10069,"yb":10069,"s":"****"},
{"a":0,"b":0.96,"y":9741,"ya":6507,"yb":8318,"s":"****"},
{"a":1.04,"b":1.96,"y":9741,"ya":8318,"yb":7373,"s":"****"},
{"a":2.04,"b":2.96,"y":9741,"ya":7373,"yb":6119,"s":"**"},
{"a":3.04,"b":3.96,"y":9741,"ya":6119,"yb":9383,"s":"****"},
{"a":4.04,"b":5,"y":9741,"ya":9383,"yb":9005,"s":"***"}
],
"Cbr": [
{"a":0,"b":4,"y":11.82,"ya":9.94,"yb":10.99,"s":"*"},
{"a":2,"b":5,"y":10.71,"ya":9.94,"yb":6.62,"s":"****"},
{"a":0,"b":1.96,"y":9.57,"ya":6.01,"yb":4.61,"s":"****"},
{"a":2.04,"b":4,"y":9.57,"ya":4.61,"yb":6.01,"s":"*"},
{"a":1,"b":1.96,"y":8.45,"ya":8.1,"yb":4.61,"s":"***"},
{"a":2.04,"b":3,"y":8.45,"ya":4.61,"yb":4.7,"s":"**"}
],
"Dbr": [
{"a":0,"b":3,"y":12.62,"ya":11.4,"yb":5.07,"s":"*"},
{"a":0,"b":2,"y":11.0,"ya":7.73,"yb":10.47,"s":"**"}
],
"L": [{"m":6},{"m":9},{"m":12},{"m":15},{"m":17},{"m":20}]
},
"columns": 2,
"spacing": {"row": 60, "column": 106.4},
"bounds": "flush",
"align": "each",
"concat": [
{
 "width": 292, "height": 194,
 "layer": [
  {"data": {"name": "A"},
   "transform": [{"calculate": "indexof([6,9,12,15,17,20], datum.m)", "as": "i"}, {"bin": {"step": 230, "anchor": 0}, "field": "v", "as": "bv"}, {"window": [{"op": "row_number", "as": "r"}], "groupby": ["m", "bv"], "sort": [{"field": "v"}]}, {"calculate": "datum.i + (datum.r % 2 === 0 ? 1 : -1) * floor(datum.r / 2) * 0.0883", "as": "xp"}],
   "mark": {"type": "circle", "size": 17, "opacity": 1},
   "encoding": {
    "x": {"field": "xp", "type": "quantitative", "scale": {"domain": [-0.5, 5.64], "nice": false, "zero": false}, "axis": {"values": [0,1,2,3,4,5], "tickCount": 40, "labelExpr": "['6','9','12','15','17','20'][datum.value]", "title": "Months", "tickSize": 5, "labelPadding": 10, "titlePadding": 1}},
    "y": {"field": "v", "type": "quantitative", "scale": {"domain": [0, 10000], "nice": false}, "axis": {"values": [0,1000,2000,3000,4000,5000,6000,7000,8000,9000,10000], "tickCount": 40, "labelExpr": "datum.value % 2000 === 0 ? '' + datum.value : ''", "labelOverlap": false, "tickSize": {"condition": {"test": "datum.value % 2000 === 0", "value": 5}, "value": 2.5}, "labelPadding": 2, "title": "Iba-1+ Skeletonization area (µm²)", "titleX": -35, "titleBaseline": "bottom"}},
    "color": {"field": "m", "type": "nominal", "scale": {"domain": [6,9,12,15,17,20], "range": ["#F79BC6","#D52DA6","#B5135F","#9C1A7D","#6C2869","#735873"]}, "legend": null}
   }},
  {"data": {"name": "Amed"}, "transform": [{"calculate": "indexof([6,9,12,15,17,20], datum.m)", "as": "i"}],
   "mark": {"type": "tick", "orient": "horizontal", "size": 28, "thickness": 1.5, "color": "black"},
   "encoding": {"x": {"field": "i", "type": "quantitative"}, "y": {"field": "v", "type": "quantitative"}}},
  {"data": {"name": "Abr"}, "mark": {"type": "rule", "color": "#3c3c3c", "strokeWidth": 1.3},
   "encoding": {"x": {"field": "a", "type": "quantitative"}, "x2": {"field": "b"}, "y": {"field": "y", "type": "quantitative"}}},
  {"data": {"name": "Abr"}, "mark": {"type": "rule", "color": "#3c3c3c", "strokeWidth": 1.3},
   "encoding": {"x": {"field": "a", "type": "quantitative"}, "y": {"field": "y", "type": "quantitative"}, "y2": {"field": "ya"}}},
  {"data": {"name": "Abr"}, "mark": {"type": "rule", "color": "#3c3c3c", "strokeWidth": 1.3},
   "encoding": {"x": {"field": "b", "type": "quantitative"}, "y": {"field": "y", "type": "quantitative"}, "y2": {"field": "yb"}}},
  {"data": {"name": "Abr"}, "transform": [{"calculate": "(datum.a + datum.b) / 2", "as": "mid"}],
   "mark": {"type": "text", "font": "DejaVu Sans", "fontWeight": "bold", "fontSize": 13, "baseline": "alphabetic", "dy": -1, "color": "black"},
   "encoding": {"x": {"field": "mid", "type": "quantitative"}, "y": {"field": "y", "type": "quantitative"}, "text": {"field": "s"}}},
  {"data": {"values": [{}]}, "mark": {"type": "text", "text": "Skeletonization area APP", "font": "Open Sans", "fontWeight": "bold", "fontSize": 19, "align": "right", "baseline": "alphabetic", "color": "black"},
   "encoding": {"x": {"datum": 8.23, "type": "quantitative"}, "y": {"datum": 23057, "type": "quantitative"}}},
  {"data": {"values": [{}]}, "mark": {"type": "text", "text": "NL-F/NL-F", "font": "Open Sans", "fontWeight": "bold", "fontSize": 12, "align": "left", "baseline": "alphabetic", "color": "black"},
   "encoding": {"x": {"datum": 8.25, "type": "quantitative"}, "y": {"datum": 23351, "type": "quantitative"}}},
  {"data": {"values": [{}]}, "mark": {"type": "rule", "color": "black", "strokeWidth": 2},
   "encoding": {"x": {"datum": 2.936, "type": "quantitative"}, "x2": {"datum": 10.427}, "y": {"datum": 22665, "type": "quantitative"}}},
  {"data": {"values": [{}]}, "mark": {"type": "text", "text": "A)", "font": "Open Sans", "fontWeight": "bold", "fontSize": 14, "align": "center", "baseline": "middle", "color": "black"},
   "encoding": {"x": {"datum": -0.548, "type": "quantitative"}, "y": {"datum": 20928, "type": "quantitative"}}},
  {"data": {"values": [{}]}, "mark": {"type": "rect", "fillOpacity": 0, "stroke": "black", "strokeWidth": 2},
   "encoding": {"x": {"datum": 1.807, "type": "quantitative"}, "x2": {"datum": 2.942}, "y": {"datum": 21649, "type": "quantitative"}, "y2": {"datum": 20206}}},
  {"data": {"values": [{}]}, "mark": {"type": "text", "text": "OPL", "font": "Open Sans", "fontWeight": "bold", "fontSize": 16, "align": "center", "baseline": "middle", "color": "black"},
   "encoding": {"x": {"datum": 2.374, "type": "quantitative"}, "y": {"datum": 20928, "type": "quantitative"}}}
 ]
},
{
 "width": 290, "height": 194,
 "layer": [
  {"data": {"name": "B"},
   "transform": [{"calculate": "indexof([6,9,12,15,17,20], datum.m)", "as": "i"}, {"bin": {"step": 230, "anchor": 0}, "field": "v", "as": "bv"}, {"window": [{"op": "row_number", "as": "r"}], "groupby": ["m", "bv"], "sort": [{"field": "v"}]}, {"calculate": "datum.i + (datum.r % 2 === 0 ? 1 : -1) * floor(datum.r / 2) * 0.0905", "as": "xp"}],
   "mark": {"type": "circle", "size": 17, "opacity": 1},
   "encoding": {
    "x": {"field": "xp", "type": "quantitative", "scale": {"domain": [-0.51, 5.74], "nice": false, "zero": false}, "axis": {"values": [0,1,2,3,4,5], "tickCount": 40, "labelExpr": "['6','9','12','15','17','20'][datum.value]", "title": "Months", "tickSize": 5, "labelPadding": 10, "titlePadding": 1}},
    "y": {"field": "v", "type": "quantitative", "scale": {"domain": [0, 10000], "nice": false}, "axis": {"values": [0,1000,2000,3000,4000,5000,6000,7000,8000,9000,10000], "tickCount": 40, "labelExpr": "datum.value % 2000 === 0 ? '' + datum.value : ''", "labelOverlap": false, "tickSize": {"condition": {"test": "datum.value % 2000 === 0", "value": 5}, "value": 2.5}, "labelPadding": 2, "title": "Iba-1+ Skeletonization area (µm²)", "titleX": -35, "titleBaseline": "bottom"}},
    "color": {"field": "m", "type": "nominal", "scale": {"domain": [6,9,12,15,17,20], "range": ["#F79BC6","#D52DA6","#B5135F","#9C1A7D","#6C2869","#735873"]}, "legend": null}
   }},
  {"data": {"name": "Bmed"}, "transform": [{"calculate": "indexof([6,9,12,15,17,20], datum.m)", "as": "i"}],
   "mark": {"type": "tick", "orient": "horizontal", "size": 30, "thickness": 1.5, "color": "black"},
   "encoding": {"x": {"field": "i", "type": "quantitative"}, "y": {"field": "v", "type": "quantitative"}}},
  {"data": {"name": "Bbr"}, "mark": {"type": "rule", "color": "#3c3c3c", "strokeWidth": 1.3},
   "encoding": {"x": {"field": "a", "type": "quantitative"}, "x2": {"field": "b"}, "y": {"field": "y", "type": "quantitative"}}},
  {"data": {"name": "Bbr"}, "mark": {"type": "rule", "color": "#3c3c3c", "strokeWidth": 1.3},
   "encoding": {"x": {"field": "a", "type": "quantitative"}, "y": {"field": "y", "type": "quantitative"}, "y2": {"field": "ya"}}},
  {"data": {"name": "Bbr"}, "mark": {"type": "rule", "color": "#3c3c3c", "strokeWidth": 1.3},
   "encoding": {"x": {"field": "b", "type": "quantitative"}, "y": {"field": "y", "type": "quantitative"}, "y2": {"field": "yb"}}},
  {"data": {"name": "Bbr"}, "transform": [{"calculate": "(datum.a + datum.b) / 2", "as": "mid"}],
   "mark": {"type": "text", "font": "DejaVu Sans", "fontWeight": "bold", "fontSize": 13, "baseline": "alphabetic", "dy": -1, "color": "black"},
   "encoding": {"x": {"field": "mid", "type": "quantitative"}, "y": {"field": "y", "type": "quantitative"}, "text": {"field": "s"}}},
  {"data": {"values": [{}]}, "mark": {"type": "text", "text": "B)", "font": "Open Sans", "fontWeight": "bold", "fontSize": 14, "align": "center", "baseline": "middle", "color": "black"},
   "encoding": {"x": {"datum": -0.504, "type": "quantitative"}, "y": {"datum": 21057, "type": "quantitative"}}},
  {"data": {"values": [{}]}, "mark": {"type": "rect", "fillOpacity": 0, "stroke": "black", "strokeWidth": 2},
   "encoding": {"x": {"datum": 1.889, "type": "quantitative"}, "x2": {"datum": 3.031}, "y": {"datum": 21753, "type": "quantitative"}, "y2": {"datum": 20361}}},
  {"data": {"values": [{}]}, "mark": {"type": "text", "text": "IPL", "font": "Open Sans", "fontWeight": "bold", "fontSize": 16, "align": "center", "baseline": "middle", "color": "black"},
   "encoding": {"x": {"datum": 2.46, "type": "quantitative"}, "y": {"datum": 21057, "type": "quantitative"}}}
 ]
},
{
 "width": 290, "height": 342,
 "layer": [
  {"data": {"name": "C"},
   "transform": [{"calculate": "indexof([6,9,12,15,17,20], datum.m)", "as": "i"}, {"bin": {"step": 0.22, "anchor": 1}, "field": "v", "as": "bv"}, {"window": [{"op": "row_number", "as": "r"}], "groupby": ["m", "bv"], "sort": [{"field": "v"}]}, {"calculate": "datum.i + (datum.r % 2 === 0 ? 1 : -1) * floor(datum.r / 2) * 0.0917", "as": "xp"}],
   "mark": {"type": "circle", "size": 17, "opacity": 1},
   "encoding": {
    "x": {"field": "xp", "type": "quantitative", "scale": {"domain": [-0.52, 5.81], "nice": false, "zero": false}, "axis": {"values": [0,1,2,3,4,5], "tickCount": 40, "labelExpr": "['6','9','12','15','17','20'][datum.value]", "title": "Months", "tickSize": 5, "labelPadding": 10, "titlePadding": 1}},
    "y": {"field": "v", "type": "quantitative", "scale": {"domain": [0, 10], "range": [342, 151.4], "nice": false}, "axis": {"values": [0,1,2,3,4,5,6,7,8,9,10], "tickCount": 40, "labelExpr": "datum.value % 2 === 0 ? '' + datum.value : ''", "labelOverlap": false, "tickSize": {"condition": {"test": "datum.value % 2 === 0", "value": 5}, "value": 2.5}, "labelPadding": 2, "title": "Feret's Diameter Ratio", "titleX": -18.7, "titleBaseline": "bottom"}},
    "color": {"field": "m", "type": "nominal", "scale": {"domain": [6,9,12,15,17,20], "range": ["#F79BC6","#D52DA6","#B5135F","#9C1A7D","#6C2869","#735873"]}, "legend": null}
   }},
  {"data": {"name": "Cmed"}, "transform": [{"calculate": "indexof([6,9,12,15,17,20], datum.m)", "as": "i"}],
   "mark": {"type": "tick", "orient": "horizontal", "size": 27, "thickness": 1.5, "color": "black"},
   "encoding": {"x": {"field": "i", "type": "quantitative"}, "y": {"field": "v", "type": "quantitative"}}},
  {"data": {"name": "Cbr"}, "mark": {"type": "rule", "color": "#3c3c3c", "strokeWidth": 1.3},
   "encoding": {"x": {"field": "a", "type": "quantitative"}, "x2": {"field": "b"}, "y": {"field": "y", "type": "quantitative"}}},
  {"data": {"name": "Cbr"}, "mark": {"type": "rule", "color": "#3c3c3c", "strokeWidth": 1.3},
   "encoding": {"x": {"field": "a", "type": "quantitative"}, "y": {"field": "y", "type": "quantitative"}, "y2": {"field": "ya"}}},
  {"data": {"name": "Cbr"}, "mark": {"type": "rule", "color": "#3c3c3c", "strokeWidth": 1.3},
   "encoding": {"x": {"field": "b", "type": "quantitative"}, "y": {"field": "y", "type": "quantitative"}, "y2": {"field": "yb"}}},
  {"data": {"name": "Cbr"}, "transform": [{"calculate": "(datum.a + datum.b) / 2", "as": "mid"}],
   "mark": {"type": "text", "font": "DejaVu Sans", "fontWeight": "bold", "fontSize": 13, "baseline": "alphabetic", "dy": -1, "color": "black"},
   "encoding": {"x": {"field": "mid", "type": "quantitative"}, "y": {"field": "y", "type": "quantitative"}, "text": {"field": "s"}}},
  {"data": {"values": [{}]}, "mark": {"type": "text", "text": "Feret´s Diameter Ratio APP", "font": "Open Sans", "fontWeight": "bold", "fontSize": 19, "align": "right", "baseline": "alphabetic", "color": "black"},
   "encoding": {"x": {"datum": 9.19, "type": "quantitative"}, "y": {"datum": 16.47, "type": "quantitative"}}},
  {"data": {"values": [{}]}, "mark": {"type": "text", "text": "NL-F/NL-F", "font": "Open Sans", "fontWeight": "bold", "fontSize": 12, "align": "left", "baseline": "alphabetic", "color": "black"},
   "encoding": {"x": {"datum": 9.21, "type": "quantitative"}, "y": {"datum": 16.79, "type": "quantitative"}}},
  {"data": {"values": [{}]}, "mark": {"type": "rule", "color": "black", "strokeWidth": 2},
   "encoding": {"x": {"datum": 3.185, "type": "quantitative"}, "x2": {"datum": 10.98}, "y": {"datum": 15.62, "type": "quantitative"}}},
  {"data": {"values": [{}]}, "mark": {"type": "text", "text": "C)", "font": "Open Sans", "fontWeight": "bold", "fontSize": 14, "align": "center", "baseline": "middle", "color": "black"},
   "encoding": {"x": {"datum": -0.559, "type": "quantitative"}, "y": {"datum": 14.01, "type": "quantitative"}}},
  {"data": {"values": [{}]}, "mark": {"type": "rect", "fillOpacity": 0, "stroke": "black", "strokeWidth": 2},
   "encoding": {"x": {"datum": 1.984, "type": "quantitative"}, "x2": {"datum": 3.163}, "y": {"datum": 14.8, "type": "quantitative"}, "y2": {"datum": 13.33}}},
  {"data": {"values": [{}]}, "mark": {"type": "text", "text": "OPL", "font": "Open Sans", "fontWeight": "bold", "fontSize": 16, "align": "center", "baseline": "middle", "color": "black"},
   "encoding": {"x": {"datum": 2.574, "type": "quantitative"}, "y": {"datum": 14.06, "type": "quantitative"}}}
 ]
},
{
 "width": 314, "height": 342,
 "layer": [
  {"data": {"name": "D"},
   "transform": [{"calculate": "indexof([6,9,12,15,17,20], datum.m)", "as": "i"}, {"bin": {"step": 0.28, "anchor": 1}, "field": "v", "as": "bv"}, {"window": [{"op": "row_number", "as": "r"}], "groupby": ["m", "bv"], "sort": [{"field": "v"}]}, {"calculate": "datum.i + (datum.r % 2 === 0 ? 1 : -1) * floor(datum.r / 2) * 0.084", "as": "xp"}],
   "mark": {"type": "circle", "size": 17, "opacity": 1},
   "encoding": {
    "x": {"field": "xp", "type": "quantitative", "scale": {"domain": [-0.5, 5.78], "nice": false, "zero": false}, "axis": {"values": [0,1,2,3,4,5], "tickCount": 40, "labelExpr": "['6','9','12','15','17','20'][datum.value]", "title": "Months", "tickSize": 5, "labelPadding": 10, "titlePadding": 1}},
    "y": {"field": "v", "type": "quantitative", "scale": {"domain": [0, 14], "range": [342, 132], "nice": false}, "axis": {"values": [0,1,2,3,4,5,6,7,8,9,10,11,12,13,14], "tickCount": 40, "labelExpr": "datum.value % 2 === 0 ? '' + datum.value : ''", "labelOverlap": false, "tickSize": {"condition": {"test": "datum.value % 2 === 0", "value": 5}, "value": 2.5}, "labelPadding": 2, "title": "Feret's Diameter Ratio", "titleX": -22, "titleBaseline": "bottom"}},
    "color": {"field": "m", "type": "nominal", "scale": {"domain": [6,9,12,15,17,20], "range": ["#F79BC6","#D52DA6","#B5135F","#9C1A7D","#6C2869","#735873"]}, "legend": null}
   }},
  {"data": {"name": "Dmed"}, "transform": [{"calculate": "indexof([6,9,12,15,17,20], datum.m)", "as": "i"}],
   "mark": {"type": "tick", "orient": "horizontal", "size": 30, "thickness": 1.5, "color": "black"},
   "encoding": {"x": {"field": "i", "type": "quantitative"}, "y": {"field": "v", "type": "quantitative"}}},
  {"data": {"name": "Dbr"}, "mark": {"type": "rule", "color": "#3c3c3c", "strokeWidth": 1.3},
   "encoding": {"x": {"field": "a", "type": "quantitative"}, "x2": {"field": "b"}, "y": {"field": "y", "type": "quantitative"}}},
  {"data": {"name": "Dbr"}, "mark": {"type": "rule", "color": "#3c3c3c", "strokeWidth": 1.3},
   "encoding": {"x": {"field": "a", "type": "quantitative"}, "y": {"field": "y", "type": "quantitative"}, "y2": {"field": "ya"}}},
  {"data": {"name": "Dbr"}, "mark": {"type": "rule", "color": "#3c3c3c", "strokeWidth": 1.3},
   "encoding": {"x": {"field": "b", "type": "quantitative"}, "y": {"field": "y", "type": "quantitative"}, "y2": {"field": "yb"}}},
  {"data": {"name": "Dbr"}, "transform": [{"calculate": "(datum.a + datum.b) / 2", "as": "mid"}],
   "mark": {"type": "text", "font": "DejaVu Sans", "fontWeight": "bold", "fontSize": 13, "baseline": "alphabetic", "dy": -1, "color": "black"},
   "encoding": {"x": {"field": "mid", "type": "quantitative"}, "y": {"field": "y", "type": "quantitative"}, "text": {"field": "s"}}},
  {"data": {"values": [{}]}, "mark": {"type": "text", "text": "D)", "font": "Open Sans", "fontWeight": "bold", "fontSize": 14, "align": "center", "baseline": "middle", "color": "black"},
   "encoding": {"x": {"datum": -0.494, "type": "quantitative"}, "y": {"datum": 17.47, "type": "quantitative"}}},
  {"data": {"values": [{}]}, "mark": {"type": "rect", "fillOpacity": 0, "stroke": "black", "strokeWidth": 2},
   "encoding": {"x": {"datum": 2.006, "type": "quantitative"}, "x2": {"datum": 3.066}, "y": {"datum": 18.47, "type": "quantitative"}, "y2": {"datum": 16.6}}},
  {"data": {"values": [{}]}, "mark": {"type": "text", "text": "IPL", "font": "Open Sans", "fontWeight": "bold", "fontSize": 16, "align": "center", "baseline": "middle", "color": "black"},
   "encoding": {"x": {"datum": 2.536, "type": "quantitative"}, "y": {"datum": 17.53, "type": "quantitative"}}}
 ]
},
{
 "width": 292, "height": 18,
 "layer": [
  {"data": {"values": [{}]}, "mark": {"type": "rule", "color": "black", "strokeWidth": 1.5},
   "encoding": {"x": {"datum": -0.5, "type": "quantitative", "scale": {"domain": [-8.668, 0.819], "nice": false, "zero": false}, "axis": null}, "x2": {"datum": 5.458}, "y": {"datum": 0, "type": "quantitative", "scale": {"domain": [0, 1], "nice": false}, "axis": null}}},
  {"data": {"name": "L"}, "transform": [{"calculate": "indexof([6,9,12,15,17,20], datum.m)", "as": "i"}],
   "mark": {"type": "circle", "size": 20, "opacity": 1},
   "encoding": {"x": {"field": "i", "type": "quantitative", "axis": null}, "y": {"datum": 0.5, "type": "quantitative", "axis": null}, "color": {"field": "m", "type": "nominal", "scale": {"domain": [6,9,12,15,17,20], "range": ["#F79BC6","#D52DA6","#B5135F","#9C1A7D","#6C2869","#735873"]}, "legend": null}}},
  {"data": {"name": "L"}, "transform": [{"calculate": "indexof([6,9,12,15,17,20], datum.m)", "as": "i"}],
   "mark": {"type": "text", "font": "Liberation Sans", "fontWeight": "bold", "fontSize": 9, "baseline": "alphabetic", "color": "black"},
   "encoding": {"x": {"field": "i", "type": "quantitative", "axis": null}, "y": {"datum": -0.556, "type": "quantitative", "axis": null}, "text": {"field": "m", "type": "nominal"}}},
  {"data": {"values": [{}]}, "mark": {"type": "text", "text": "APP", "font": "Lato", "fontSize": 15, "align": "right", "baseline": "alphabetic", "color": "black"},
   "encoding": {"x": {"datum": 2.109, "type": "quantitative", "axis": null}, "y": {"datum": -1.889, "type": "quantitative", "axis": null}}},
  {"data": {"values": [{}]}, "mark": {"type": "text", "text": "NL-F/NL-F", "font": "Lato", "fontSize": 9.5, "align": "left", "baseline": "alphabetic", "color": "black"},
   "encoding": {"x": {"datum": 2.125, "type": "quantitative", "axis": null}, "y": {"datum": -1.5, "type": "quantitative", "axis": null}}}
 ]
}
]
}
